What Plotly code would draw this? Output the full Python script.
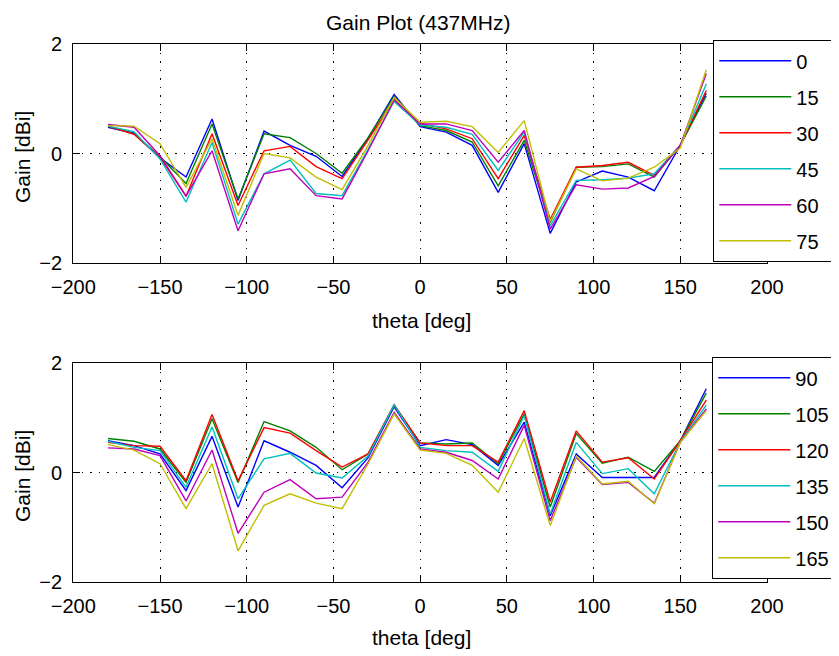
import plotly.graph_objects as go

theta = [-180, -165, -150, -135, -120, -105, -90, -75, -60, -45, -30, -15,
         0, 15, 30, 45, 60, 75, 90, 105, 120, 135, 150, 165]
x_ticks = [-200, -150, -100, -50, 0, 50, 100, 150, 200]
y_ticks = [-2, 0, 2]

top_labels = ["0", "15", "30", "45", "60", "75"]
bottom_labels = ["90", "105", "120", "135", "150", "165"]

gain_0 = [0.48, 0.37, -0.08, -0.43, 0.63, -0.86, 0.41, 0.15, -0.05, -0.42, 0.28, 1.08,
          0.49, 0.39, 0.15, -0.71, 0.18, -1.46, -0.52, -0.32, -0.43, -0.68, 0.15, 1.10]
gain_15 = [0.50, 0.36, -0.06, -0.55, 0.54, -0.83, 0.36, 0.29, 0.00, -0.36, 0.29, 1.04,
           0.51, 0.42, 0.21, -0.59, 0.24, -1.26, -0.25, -0.24, -0.19, -0.43, 0.15, 1.05]
gain_30 = [0.50, 0.35, -0.07, -0.78, 0.36, -0.95, 0.05, 0.13, -0.24, -0.46, 0.25, 0.98,
           0.55, 0.45, 0.27, -0.46, 0.33, -1.20, -0.25, -0.22, -0.16, -0.40, 0.15, 1.15]
gain_45 = [0.50, 0.40, -0.10, -0.89, 0.20, -1.29, -0.37, -0.12, -0.73, -0.77, 0.08, 0.95,
           0.52, 0.48, 0.35, -0.31, 0.39, -1.32, -0.49, -0.48, -0.45, -0.37, 0.15, 1.27]
gain_60 = [0.53, 0.48, -0.04, -0.78, 0.05, -1.41, -0.37, -0.28, -0.77, -0.83, 0.05, 0.98,
           0.54, 0.54, 0.42, -0.16, 0.42, -1.38, -0.57, -0.65, -0.63, -0.42, 0.15, 1.46]
gain_75 = [0.51, 0.50, 0.18, -0.62, 0.27, -1.13, 0.00, -0.08, -0.43, -0.66, 0.15, 1.02,
           0.57, 0.59, 0.49, 0.02, 0.60, -1.24, -0.28, -0.50, -0.45, -0.25, 0.10, 1.53]

gain_90 = [0.58, 0.49, 0.34, -0.33, 0.66, -0.63, 0.58, 0.37, 0.13, -0.28, 0.27, 1.20,
           0.49, 0.60, 0.51, 0.13, 0.92, -0.79, 0.34, -0.09, -0.09, -0.09, 0.58, 1.53]
gain_105 = [0.62, 0.57, 0.43, -0.18, 0.98, -0.18, 0.93, 0.76, 0.46, 0.05, 0.34, 1.22,
            0.54, 0.52, 0.54, 0.16, 1.07, -0.63, 0.71, 0.17, 0.28, 0.02, 0.58, 1.45]
gain_120 = [0.55, 0.49, 0.48, -0.15, 1.06, -0.15, 0.82, 0.72, 0.40, 0.10, 0.34, 1.24,
            0.54, 0.49, 0.49, 0.19, 1.13, -0.54, 0.76, 0.19, 0.27, -0.12, 0.58, 1.32]
gain_135 = [0.57, 0.46, 0.40, -0.27, 0.83, -0.48, 0.25, 0.35, -0.01, -0.10, 0.30, 1.24,
            0.46, 0.40, 0.37, 0.02, 1.04, -0.76, 0.55, -0.02, 0.07, -0.39, 0.56, 1.23]
gain_150 = [0.45, 0.43, 0.31, -0.52, 0.41, -1.11, -0.36, -0.13, -0.48, -0.45, 0.19, 1.10,
            0.43, 0.37, 0.22, -0.12, 0.86, -0.88, 0.28, -0.22, -0.18, -0.56, 0.55, 1.16]
gain_165 = [0.51, 0.41, 0.16, -0.66, 0.16, -1.43, -0.60, -0.39, -0.56, -0.66, 0.16, 1.07,
            0.41, 0.35, 0.13, -0.36, 0.62, -0.97, 0.30, -0.21, -0.16, -0.57, 0.55, 1.13]

top_series = [gain_0, gain_15, gain_30, gain_45, gain_60, gain_75]
bottom_series = [gain_90, gain_105, gain_120, gain_135, gain_150, gain_165]
colors = ["rgb(0,0,255)", "rgb(0,128,0)", "rgb(255,0,0)",
          "rgb(0,191,191)", "rgb(191,0,191)", "rgb(191,191,0)"]

FONT = "Liberation Sans, Arial, Helvetica, sans-serif"
TICK_FS = 20
TEXT_FS = 21
LEG_FS = 20

W, H = 839, 656
OFF = 8  # page body margin offset
PAD = "\u2007"  # figure space: widens the upper legend box to match the lower one


def px(x):
    return (x - OFF) / W


def py(y):
    return 1 - (y - OFF) / H


fig = go.Figure()
for i, (name, ys) in enumerate(zip(top_labels, top_series)):
    fig.add_trace(go.Scatter(x=theta, y=ys, mode="lines", name=name + PAD,
                             line=dict(color=colors[i], width=1.4),
                             xaxis="x", yaxis="y", legend="legend",
                             legendgroup="t%d" % i))
for i, (name, ys) in enumerate(zip(bottom_labels, bottom_series)):
    fig.add_trace(go.Scatter(x=theta, y=ys, mode="lines", name=name,
                             line=dict(color=colors[i], width=1.4),
                             xaxis="x2", yaxis="y2", legend="legend2",
                             legendgroup="b%d" % i))

ax_common = dict(showline=True, linecolor="black", linewidth=1.3, mirror="ticks",
                 ticks="inside", ticklen=7, tickwidth=1.3, tickcolor="black",
                 showgrid=True, gridcolor="black", gridwidth=1.3, griddash="1.5px,7px",
                 zeroline=False, automargin=False,
                 tickfont=dict(family=FONT, size=TICK_FS, color="black"))

xdom = [px(73.3), px(767)]
leg_common = dict(xanchor="left", yanchor="top",
                  bgcolor="white", bordercolor="black", borderwidth=1.3,
                  font=dict(family=FONT, size=LEG_FS, color="black"),
                  itemwidth=72, tracegroupgap=7, traceorder="grouped")

fig.update_layout(
    width=W, height=H,
    margin=dict(l=0, r=0, t=0, b=0),
    paper_bgcolor="white", plot_bgcolor="white",
    font=dict(family=FONT, size=TEXT_FS, color="black"),
    xaxis=dict(domain=xdom, range=[-200, 200], tickvals=x_ticks, anchor="y",
               ticklabelstandoff=6, **ax_common),
    yaxis=dict(domain=[py(263), py(44)], range=[-2, 2],
               tickvals=y_ticks, anchor="x", ticklabelstandoff=6, **ax_common),
    xaxis2=dict(domain=xdom, range=[-200, 200], tickvals=x_ticks, anchor="y2",
                ticklabelstandoff=6, **ax_common),
    yaxis2=dict(domain=[py(582), py(363)], range=[-2, 2],
                tickvals=y_ticks, anchor="x2", ticklabelstandoff=6, **ax_common),
    legend=dict(x=px(713), y=py(40), **leg_common),
    legend2=dict(x=px(712), y=py(357), **leg_common),
    showlegend=True,
    annotations=[
        dict(text="Gain Plot (437MHz)", x=px(418), y=py(22), xref="paper", yref="paper",
             showarrow=False, xanchor="center", yanchor="middle", font=dict(size=TEXT_FS)),
        dict(text="theta [deg]", x=px(421), y=py(321), xref="paper", yref="paper",
             showarrow=False, xanchor="center", yanchor="middle", font=dict(size=TEXT_FS)),
        dict(text="theta [deg]", x=px(421), y=py(637), xref="paper", yref="paper",
             showarrow=False, xanchor="center", yanchor="middle", font=dict(size=TEXT_FS)),
        dict(text="Gain [dBi]", x=px(22), y=py(157), xref="paper", yref="paper",
             showarrow=False, xanchor="center", yanchor="middle", textangle=-90,
             font=dict(size=TEXT_FS)),
        dict(text="Gain [dBi]", x=px(22), y=py(476), xref="paper", yref="paper",
             showarrow=False, xanchor="center", yanchor="middle", textangle=-90,
             font=dict(size=TEXT_FS)),
    ],
)

fig.write_html("out.html")
